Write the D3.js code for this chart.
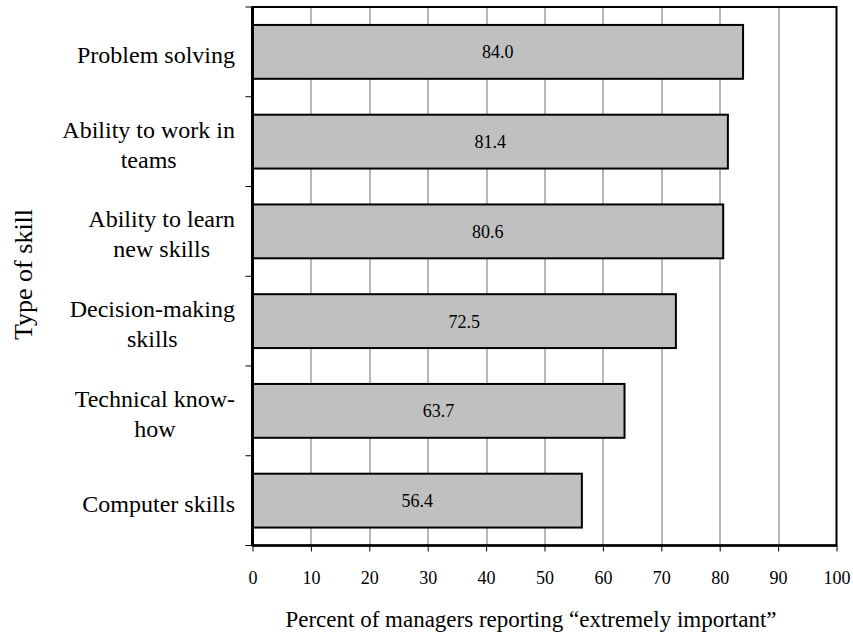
<!DOCTYPE html>
<html><head><meta charset="utf-8">
<script src="https://cdn.jsdelivr.net/npm/d3@7"></script>
<style>body{margin:0;background:#fff}svg{display:block}svg text{font-family:'Liberation Serif','DejaVu Serif',serif !important;fill:#000}</style>
</head><body><svg id="c" width="853" height="637" font-family="Liberation Serif"></svg>
<script>
const categories = ["Problem solving","Ability to work in teams","Ability to learn new skills","Decision-making skills","Technical know-how","Computer skills"];
const categoryLines = [["Problem solving"],["Ability to work in","teams"],["Ability to learn","new skills"],["Decision-making","skills"],["Technical know-","how"],["Computer skills"]];
const values = [84.0,81.4,80.6,72.5,63.7,56.4];
const xTicks = [0,10,20,30,40,50,60,70,80,90,100];
const xTitle = "Percent of managers reporting \u201cextremely important\u201d";
const yTitle = "Type of skill";

const svg = d3.select("#c");
const m = {l:252.5, t:7, r:16.5, b:91.5};
const W = 853 - m.l - m.r, H = 637 - m.t - m.b;
const g = svg.append("g").attr("transform",`translate(${m.l},${m.t})`);
const x = d3.scaleLinear().domain([0,100]).range([0,W]);
const y = d3.scaleBand().domain(categories).range([0,H]).paddingInner(0.4).paddingOuter(0.2);

// gridlines
g.selectAll(".grid").data(xTicks.slice(1,-1)).join("line")
  .attr("x1",d=>Math.round(x(d))+0.5).attr("x2",d=>Math.round(x(d))+0.5)
  .attr("y1",0).attr("y2",H).attr("stroke","#6e6e6e").attr("stroke-width",1);

// bars
g.selectAll(".bar").data(values).join("rect")
  .attr("x",0).attr("y",(d,i)=>y(categories[i]))
  .attr("width",d=>x(d)).attr("height",y.bandwidth())
  .attr("fill","#c0c0c0").attr("stroke","#000").attr("stroke-width",2);

// value labels
g.selectAll(".val").data(values).join("text")
  .attr("x",d=>x(d)/2).attr("y",(d,i)=>y(categories[i])+y.bandwidth()/2+6.5)
  .attr("text-anchor","middle").style("font-size","18px").text(d=>d.toFixed(1));

// frame
g.append("rect").attr("x",0).attr("y",0).attr("width",W).attr("height",H)
  .attr("fill","none").attr("stroke","#000").attr("stroke-width",2);
g.append("line").attr("x1",0).attr("x2",0).attr("y1",0).attr("y2",H).attr("stroke","#000").attr("stroke-width",3);
g.append("line").attr("x1",0).attr("x2",W).attr("y1",H).attr("y2",H).attr("stroke","#000").attr("stroke-width",2.5);

// x axis
const xa = g.append("g").attr("transform",`translate(0,${H})`)
  .call(d3.axisBottom(x).tickValues(xTicks).tickSize(6).tickPadding(0).tickFormat(d3.format("d")));
xa.attr("font-family",null);
xa.select(".domain").remove();
xa.selectAll(".tick line").attr("stroke","#000").attr("stroke-width",1);
xa.selectAll(".tick text").attr("y",38).attr("dy",null).style("font-size","18px").attr("fill","#000");

// y boundary ticks
const bounds = d3.range(categories.length+1).map(i=>i*H/categories.length);
g.selectAll(".yt").data(bounds).join("line")
  .attr("x1",-7).attr("x2",0).attr("y1",d=>d).attr("y2",d=>d).attr("stroke","#000").attr("stroke-width",1);

// category labels
const labelRight = 235 - m.l;
categoryLines.forEach((lines,i)=>{
  const cy = y(categories[i]) + y.bandwidth()/2;
  const t = g.append("text").attr("text-anchor","middle").style("font-size","24px");
  const n = lines.length;
  const spans = lines.map((ln,j)=>t.append("tspan").attr("y",cy+11+(j-(n-1)/2)*30).text(ln));
  let maxW = 0; spans.forEach(s=>{maxW=Math.max(maxW,s.node().getComputedTextLength());});
  spans.forEach(s=>s.attr("x",labelRight-maxW/2));
});

// titles
svg.append("text").attr("x",531).attr("y",627).attr("text-anchor","middle").style("font-size","23px").text(xTitle);
svg.append("text").attr("transform","translate(32,340) rotate(-90)").attr("text-anchor","start").style("font-size","26px").text(yTitle);
</script></body></html>
